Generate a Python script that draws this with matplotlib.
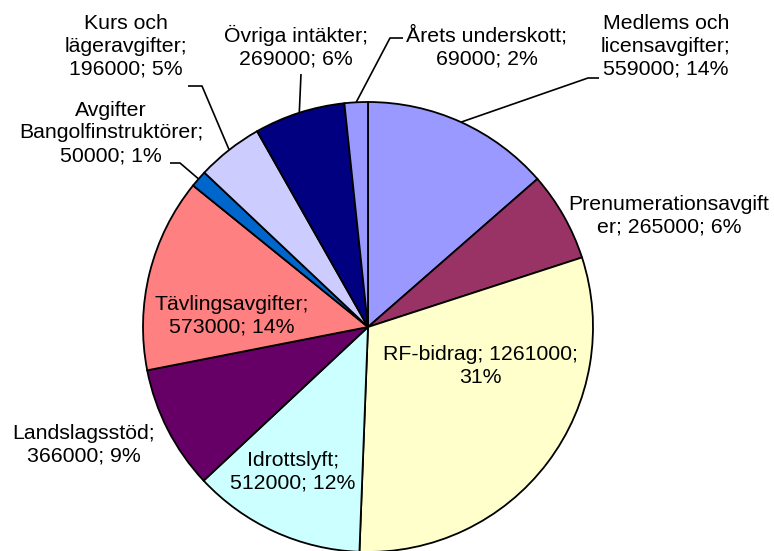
import matplotlib
matplotlib.use("Agg")
import matplotlib.pyplot as plt
import numpy as np

labels = ["Medlems och\nlicensavgifter;\n559000; 14%",
          "Prenumerationsavgift\ner; 265000; 6%",
          "RF-bidrag; 1261000;\n31%",
          "Idrottslyft;\n512000; 12%",
          "Landslagsstöd;\n366000; 9%",
          "Tävlingsavgifter;\n573000; 14%",
          "Avgifter\nBangolfinstruktörer;\n50000; 1%",
          "Kurs och\nlägeravgifter;\n196000; 5%",
          "Övriga intäkter;\n269000; 6%",
          "Årets underskott;\n69000; 2%"]
values = [559000, 265000, 1261000, 512000, 366000, 573000, 50000, 196000, 269000, 69000]
colors = ["#9999FF", "#993366", "#FFFFCC", "#CCFFFF", "#660066",
          "#FF8080", "#0066CC", "#CCCCFF", "#000080", "#9999FF"]

W, H = 774, 551
fig = plt.figure(figsize=(W/100, H/100), dpi=100)
ax = fig.add_axes([0, 0, 1, 1])

def Y(y):
    return H - y

cx, cy, R = 368, 327, 225
wedges, _ = ax.pie(values, colors=colors, startangle=90, counterclock=False,
                   center=(cx, Y(cy)), radius=R, frame=True,
                   wedgeprops=dict(edgecolor="black", linewidth=1.3))
ax.set_xlim(0, W)
ax.set_ylim(0, H)
ax.axis("off")

font = dict(family=["Liberation Sans", "DejaVu Sans"], fontsize=15.3,
            ha="center", va="center", linespacing=1.26)

# label positions (pixel layout)
pos = [(666, 46), (669, 216), (480, 366), (293, 472), (84, 445),
       (232, 316), (111, 133), (126, 46), (296, 47), (487, 47)]
for lab, (x, y) in zip(labels, pos):
    ax.text(x, Y(y), lab, **font)

def edge(i, r=R):
    w = wedges[i]
    th = np.deg2rad((w.theta1 + w.theta2) / 2)
    return cx + r*np.cos(th), Y(cy) + r*np.sin(th)

# leader lines: (index, [points from label side])
leaders = {
    0: [(599, 78), (588, 78)],
    6: [(170, 163), (180, 163)],
    7: [(188, 86), (202, 86)],
    8: [(301, 74)],
    9: [(403, 38), (390, 38)],
}
for i, pts in leaders.items():
    ex, ey = edge(i)
    xs = [p[0] for p in pts] + [ex]
    ys = [Y(p[1]) for p in pts] + [ey]
    ax.plot(xs, ys, color="black", linewidth=1.2, solid_capstyle="butt")

fig.savefig("out.png", dpi=100)
